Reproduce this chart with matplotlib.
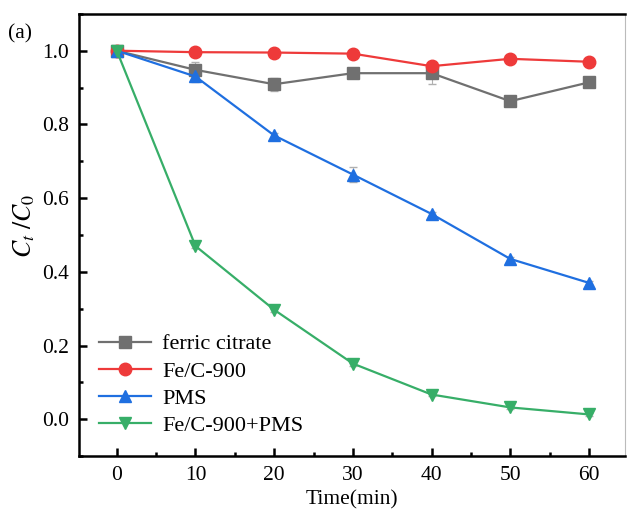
import matplotlib
matplotlib.use('Agg')
import matplotlib.pyplot as plt
from matplotlib.ticker import MultipleLocator
from matplotlib.lines import Line2D

plt.rcParams['font.family'] = ['Liberation Serif', 'DejaVu Serif']
plt.rcParams['mathtext.fontset'] = 'stix'

time = [0, 10, 20, 30, 40, 50, 60]
ferric_citrate = [1.0, 0.948, 0.909, 0.939, 0.939, 0.863, 0.914]
ferric_err = [0.0, 0.02, 0.018, 0.006, 0.03, 0.012, 0.006]
fec900 = [1.0, 0.996, 0.995, 0.992, 0.958, 0.978, 0.970]
fec900_err = [0.0, 0.004, 0.004, 0.004, 0.008, 0.004, 0.006]
pms = [1.0, 0.930, 0.770, 0.664, 0.557, 0.435, 0.370]
pms_err = [0.0, 0.015, 0.006, 0.02, 0.006, 0.006, 0.006]
fec900_pms = [1.0, 0.470, 0.297, 0.151, 0.067, 0.032, 0.013]
fec900_pms_err = [0.0, 0.006, 0.006, 0.006, 0.004, 0.004, 0.004]

series = [
    ('ferric citrate', ferric_citrate, ferric_err, '#707070', 's'),
    ('Fe/C-900', fec900, fec900_err, '#EE3A3A', 'o'),
    ('PMS', pms, pms_err, '#1F6FE0', '^'),
    ('Fe/C-900+PMS', fec900_pms, fec900_pms_err, '#37AE68', 'v'),
]

fig = plt.figure(figsize=(6.27, 5.13), dpi=100)
ax = fig.add_axes([0.126, 0.111, 0.871, 0.862])

handles = []
for label, y, err, color, marker in series:
    ax.errorbar(time, y, yerr=err, color=color, marker=marker, markersize=9,
                linewidth=1.6, elinewidth=0.8, capsize=3, ecolor='#b0b0b0')
    handles.append(Line2D([], [], color=color, marker=marker, markersize=9,
                          linewidth=1.6, label=label))

ax.set_xlim(-4.8, 64.6)
ax.set_ylim(-0.1, 1.1)
ax.xaxis.set_major_locator(MultipleLocator(10))
ax.xaxis.set_minor_locator(MultipleLocator(5))
ax.yaxis.set_major_locator(MultipleLocator(0.2))
ax.yaxis.set_minor_locator(MultipleLocator(0.1))
ax.tick_params(which='both', direction='in', labelsize=15.5, width=1.8)
ax.tick_params(which='major', length=6, pad=7)
ax.tick_params(which='minor', length=3)
for s in ax.spines.values():
    s.set_linewidth(1.8)
ax.spines['right'].set_linewidth(0.8)
ax.spines['right'].set_color('#bbbbbb')

ax.set_xlabel('Time(min)', fontsize=15.5, labelpad=4)
ax.set_ylabel(r'$C_t\ /C_0$', fontsize=18.5)
ax.yaxis.set_label_coords(-0.077, 0.52)
fig.text(0.012, 0.925, '(a)', fontsize=15.5)

ax.legend(handles=handles, loc='lower left', frameon=False, fontsize=16,
          handlelength=2.35, borderaxespad=0.5, labelspacing=0.3,
          handletextpad=0.5)

fig.savefig('out.png', dpi=100)
